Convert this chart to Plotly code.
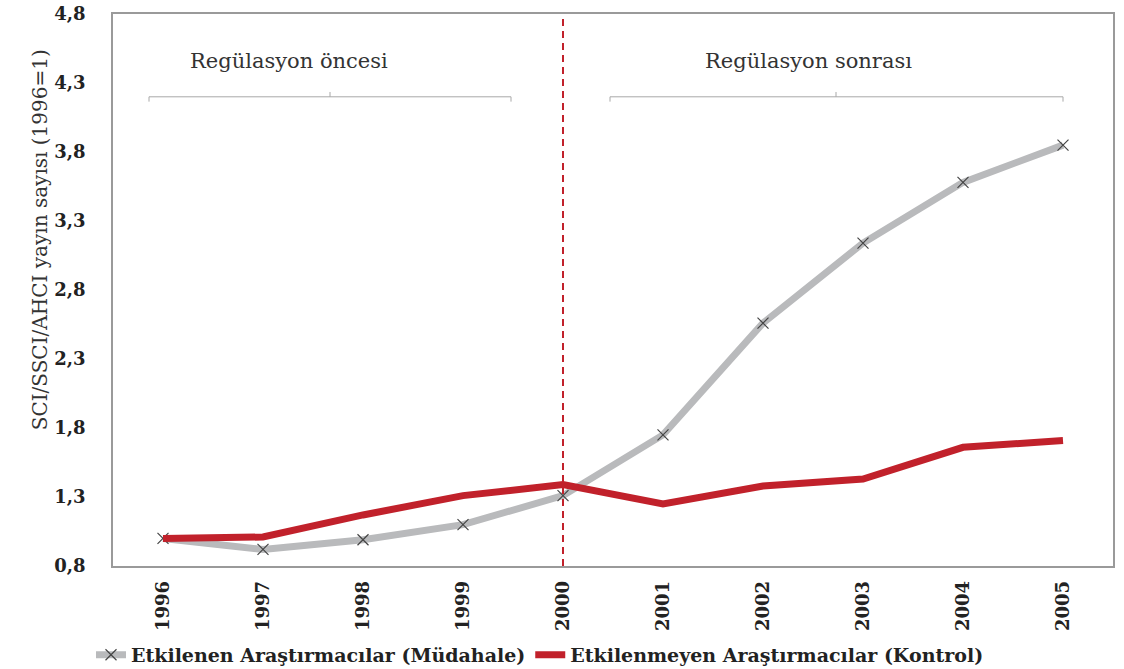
import plotly.graph_objects as go

years = [1996, 1997, 1998, 1999, 2000, 2001, 2002, 2003, 2004, 2005]
mudahale = [1.00, 0.92, 0.99, 1.10, 1.31, 1.75, 2.56, 3.14, 3.58, 3.85]
kontrol = [1.00, 1.01, 1.17, 1.31, 1.39, 1.25, 1.38, 1.43, 1.66, 1.71]
y_ticks = [0.8, 1.3, 1.8, 2.3, 2.8, 3.3, 3.8, 4.3, 4.8]
name_mud = "Etkilenen Araştırmacılar (Müdahale)"
name_kon = "Etkilenmeyen Araştırmacılar (Kontrol)"
y_title = "SCI/SSCI/AHCI yayın sayısı (1996=1)"
label_pre = "Regülasyon öncesi"
label_post = "Regülasyon sonrası"
regulation_year = 2000

SERIF = "DejaVu Serif"
GRAY = "#b9babc"
RED = "#c1212b"

fig = go.Figure()
fig.add_trace(go.Scatter(
    x=years, y=mudahale, name=name_mud, mode="lines+markers",
    line=dict(color=GRAY, width=7),
    marker=dict(symbol="x-thin", size=11, color="#444", line=dict(color="#444", width=1.2)),
))
fig.add_trace(go.Scatter(
    x=years, y=kontrol, name=name_kon, mode="lines",
    line=dict(color=RED, width=7),
))

# vertical dashed line at regulation year
fig.add_shape(type="line", xref="x", yref="y", x0=regulation_year, x1=regulation_year,
              y0=0.8, y1=4.8, line=dict(color=RED, width=2, dash="7px,5px"))

# brackets
def bracket(x0, x1, xm, y):
    c = "#a8a8a8"
    fig.add_shape(type="line", xref="x", yref="y", x0=x0, x1=x1, y0=y, y1=y, line=dict(color=c, width=1))
    fig.add_shape(type="line", xref="x", yref="y", x0=x0, x1=x0, y0=y, y1=y - 0.035, line=dict(color=c, width=1))
    fig.add_shape(type="line", xref="x", yref="y", x0=x1, x1=x1, y0=y, y1=y - 0.035, line=dict(color=c, width=1))
    fig.add_shape(type="line", xref="x", yref="y", x0=xm, x1=xm, y0=y, y1=y + 0.035, line=dict(color=c, width=1))

bracket(1995.86, 1999.48, 1997.67, 4.20)
bracket(2000.47, 2005.0, 2002.73, 4.20)

fig.add_annotation(x=1997.26, y=4.46, xref="x", yref="y", text=label_pre, showarrow=False,
                   font=dict(family=SERIF, size=21, color="#333"))
fig.add_annotation(x=2002.45, y=4.46, xref="x", yref="y", text=label_post, showarrow=False,
                   font=dict(family=SERIF, size=21, color="#333"))

# y-axis title (placed as in the reference, above the axis centre)
fig.add_annotation(x=-0.073, y=0.59, xref="paper", yref="paper", text=y_title,
                   textangle=-90, showarrow=False, xanchor="center", yanchor="middle",
                   font=dict(family=SERIF, size=20, color="#333"))

fig.update_layout(
    width=1124, height=669,
    margin=dict(l=113, r=11, t=14, b=103, autoexpand=False),
    plot_bgcolor="white", paper_bgcolor="white",
    separators=", ",
    showlegend=True,
    legend=dict(orientation="h", x=-0.022, xanchor="left", y=-0.161, yanchor="middle",
                font=dict(family=SERIF, size=19, color="#222", weight="bold"),
                itemwidth=30, tracegroupgap=0),
    xaxis=dict(range=[1995.5, 2005.5], tickvals=years, ticktext=[str(y) for y in years],
               tickangle=-90, showgrid=False, zeroline=False, automargin=False,
               showline=True, linecolor="#9a9a9a", linewidth=1.5, mirror=True,
               ticks="", ticklabelstandoff=6,
               tickfont=dict(family=SERIF, size=18, color="#222", weight="bold")),
    yaxis=dict(range=[0.8, 4.8], tickvals=y_ticks, tickformat=".1f",
               showgrid=False, zeroline=False, automargin=False,
               showline=True, linecolor="#9a9a9a", linewidth=1.5, mirror=True,
               ticks="", ticklabelstandoff=22, ticklabeloverflow="allow",
               tickfont=dict(family=SERIF, size=18, color="#222", weight="bold")),
)

# remove the default page margin so the figure fills the window exactly
fig.write_html("out.html", config={"displayModeBar": False},
               post_script="document.body.style.margin='0';")
